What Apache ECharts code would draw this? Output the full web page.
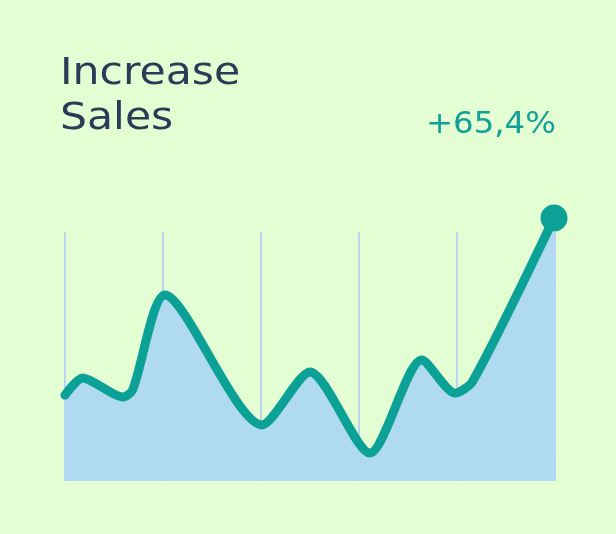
<!DOCTYPE html>
<html>
<head>
<meta charset="utf-8">
<script src="https://cdn.jsdelivr.net/npm/echarts@6/dist/echarts.min.js"></script>
<style>
  html, body { margin: 0; padding: 0; background: #e2fed2; }
  #chart { width: 616px; height: 534px; }
</style>
</head>
<body>
<div id="chart"></div>
<script>
// Sales trend: position along the period (0..5) and relative sales level
var periods = [0, 0.18, 0.59, 0.69, 1.02, 2.01, 2.5, 3.11, 3.64, 3.98, 4.16, 4.99];
var sales   = [34.5, 41.4, 33.7, 36.5, 74.7, 22.5, 43.8, 11.2, 48.6, 35.3, 40.0, 105.6];
var titleLines = ['Increase', 'Sales'];
var growthText = '+65,4%';

var points = periods.map(function (p, i) { return [p, sales[i]]; });
var lastIndex = points.length - 1;

var chart = echarts.init(document.getElementById('chart'));
chart.setOption({
  backgroundColor: '#e2fed2',
  animation: false,
  // Heading and growth figure, drawn with a slightly widened face
  graphic: [{
    type: 'text',
    x: 60,
    y: 52,
    scaleX: 1.15,
    style: {
      text: titleLines.join('\n'),
      fontFamily: 'DejaVu Sans',
      fontSize: 37,
      lineHeight: 45,
      fill: '#2c3a58',
      align: 'left',
      verticalAlign: 'top'
    }
  }, {
    type: 'text',
    x: 556,
    y: 110,
    scaleX: 1.08,
    style: {
      text: growthText,
      fontFamily: 'DejaVu Sans',
      fontSize: 30,
      fill: '#12a196',
      align: 'right',
      verticalAlign: 'top'
    }
  }],
  grid: { left: 65, right: 61, top: 232, bottom: 53 },
  xAxis: {
    type: 'value',
    min: 0,
    max: 5,
    interval: 1,
    axisLine: { show: false },
    axisTick: { show: false },
    axisLabel: { show: false },
    splitLine: { show: true, lineStyle: { color: '#b9d3f3', width: 2 } }
  },
  yAxis: {
    type: 'value',
    min: 0,
    max: 100,
    show: false,
    splitLine: { show: false }
  },
  series: [{
    type: 'line',
    data: points,
    smooth: 0.25,
    clip: false,
    showSymbol: true,
    symbol: 'circle',
    symbolSize: function (val, params) {
      return params.dataIndex === lastIndex ? 27 : 0;
    },
    itemStyle: { color: '#0ca196' },
    lineStyle: { color: '#0ca196', width: 9, cap: 'round', join: 'round' },
    areaStyle: { color: '#aed9f1', opacity: 0.96 },
    emphasis: { disabled: true }
  }]
});
</script>
</body>
</html>
